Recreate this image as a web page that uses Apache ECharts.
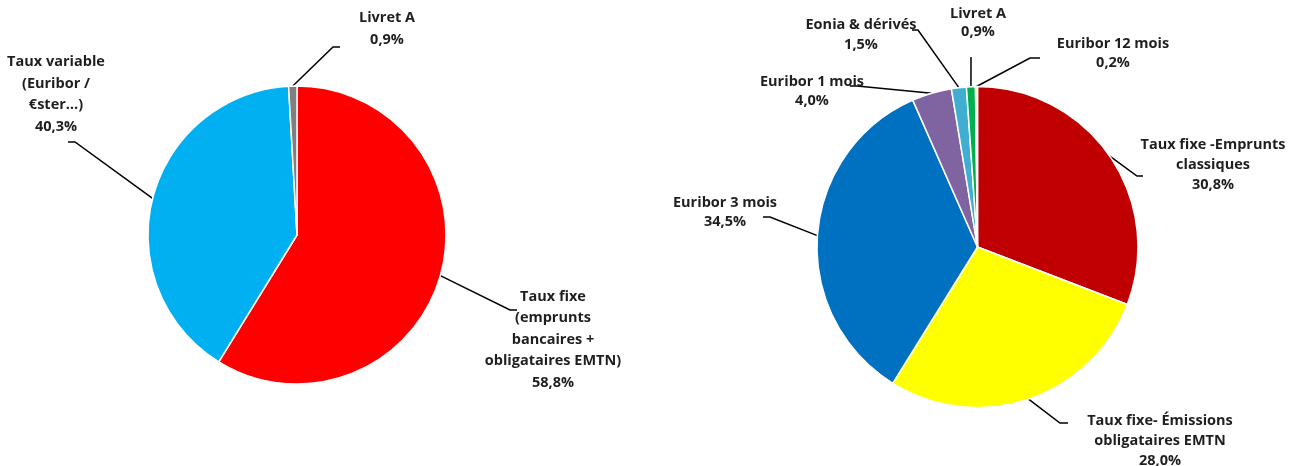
<!DOCTYPE html>
<html>
<head>
<meta charset="utf-8">
<script src="https://cdn.jsdelivr.net/npm/echarts@6/dist/echarts.min.js"></script>
<style>
  html, body { margin: 0; padding: 0; background: #fff; }
  #chart { width: 1293px; height: 466px; }
</style>
</head>
<body>
<div id="chart"></div>
<script>
// left pie : structure des taux
const leftNames = ['Taux fixe\n(emprunts\nbancaires +\nobligataires EMTN)', 'Taux variable\n(Euribor /\n€ster…)', 'Livret A'];
const leftValues = [58.8, 40.3, 0.9];
const leftColors = ['#FF0000', '#00B0F0', '#7F7F7F'];

// right pie : détail par index
const rightNames = ['Taux fixe -Emprunts\nclassiques', 'Taux fixe- Émissions\nobligataires EMTN', 'Euribor 3 mois', 'Euribor 1 mois', 'Eonia & dérivés', 'Livret A', 'Euribor 12 mois'];
const rightValues = [30.8, 28.0, 34.5, 4.0, 1.5, 0.9, 0.2];
const rightColors = ['#C00000', '#FFFF00', '#0070C0', '#8064A2', '#3FAED0', '#00B050', '#F2EBB0'];

// label placement : text centre x, text top y, elbow point, end point
const leftLabels = [
  { x: 553, y: 286, lh: 21.5, elbow: [510, 310], end: [517, 310] },
  { x: 56, y: 51, lh: 21.7, elbow: [75, 142], end: [68, 142] },
  { x: 387, y: 7, lh: 22, elbow: [333, 47], end: [340, 47] }
];
const rightLabels = [
  { x: 1213, y: 135, lh: 20, elbow: [1137, 176], end: [1143, 176] },
  { x: 1160, y: 411, lh: 20, elbow: [1060, 423], end: [1068, 423] },
  { x: 725, y: 193, lh: 19, elbow: [770, 217], end: [763, 217] },
  { x: 812, y: 72, lh: 19, elbow: [857, 86], end: [850, 86] },
  { x: 861, y: 15, lh: 20, elbow: [918, 30], end: [912, 30] },
  { x: 978, y: 5, lh: 18, elbow: [971, 60], end: [971, 57] },
  { x: 1113, y: 34, lh: 19, elbow: [1030, 58], end: [1040, 58] }
];

const fmt = v => v.toFixed(1).replace('.', ',') + '%';

const chart = echarts.init(document.getElementById('chart'));

const makePie = (names, values, colors, labels, center, radius) => ({
  type: 'pie',
  center: center,
  radius: radius,
  startAngle: 90,
  clockwise: true,
  avoidLabelOverlap: false,
  silent: true,
  itemStyle: { borderColor: '#fff', borderWidth: 1.5 },
  label: {
    show: true,
    position: 'outside',
    fontFamily: 'Open Sans',
    fontWeight: 'bold',
    fontSize: 14.5,
    color: '#1f1f1f',
    align: 'center',
    formatter: p => p.name + '\n' + fmt(p.value)
  },
  labelLine: {
    show: true,
    length: 20,
    length2: 10,
    lineStyle: { color: '#000', width: 1.5 }
  },
  labelLayout: params => {
    const l = labels[params.dataIndex];
    const pts = params.labelLinePoints;
    return {
      x: l.x,
      y: l.y,
      align: 'center',
      verticalAlign: 'top',
      labelLinePoints: [pts[0], l.elbow, l.end]
    };
  },
  data: values.map((v, i) => ({
    name: names[i],
    value: v,
    itemStyle: { color: colors[i] },
    label: { lineHeight: labels[i].lh }
  }))
});

chart.setOption({
  backgroundColor: '#fff',
  animation: false,
  series: [
    makePie(leftNames, leftValues, leftColors, leftLabels, [297, 235], 149),
    makePie(rightNames, rightValues, rightColors, rightLabels, [977.5, 247], 160.5)
  ]
});
</script>
</body>
</html>
